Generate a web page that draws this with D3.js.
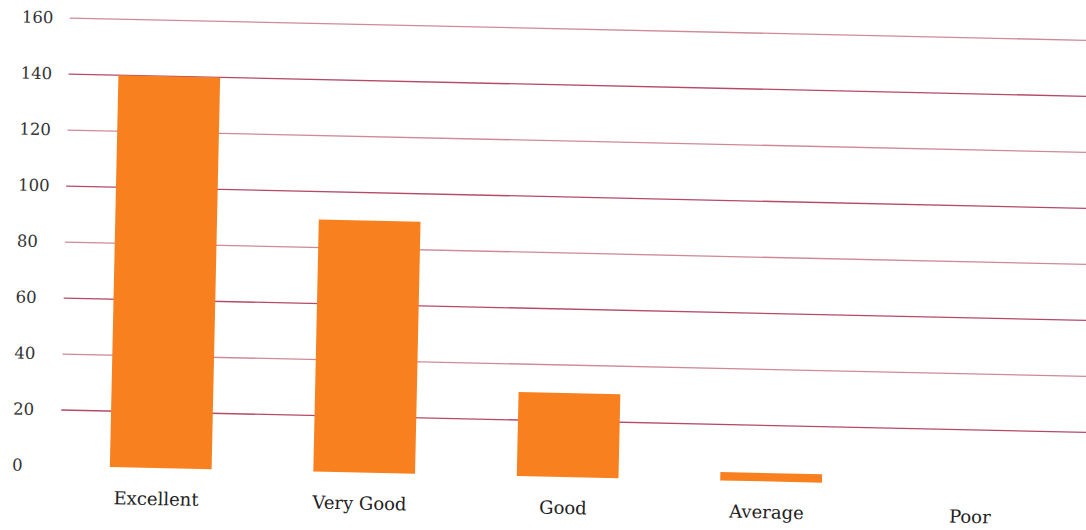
<!DOCTYPE html>
<html>
<head>
<meta charset="utf-8">
<script src="https://cdn.jsdelivr.net/npm/d3@7"></script>
<style>
html,body{margin:0;padding:0;background:#fff;}
svg{display:block;}
</style>
</head>
<body>
<svg id="chart" width="1086" height="530"></svg>
<script>
const categories = ["Excellent", "Very Good", "Good", "Average", "Poor"];
const values = [140, 90, 30, 3, 0];
const tickValues = [0, 20, 40, 60, 80, 100, 120, 140, 160];

const svg = d3.select("#chart");
svg.append("rect").attr("width", 1086).attr("height", 530).attr("fill", "#fff");

const g = svg.append("g").attr("transform", "rotate(1.25, 60, 466)");

const x = d3.scaleBand().domain(categories).range([59, 1076.5])
  .paddingInner(0.5).paddingOuter(0.25);
const y = d3.scaleLinear().domain([0, 160]).range([466, 18]);

// gridlines (no line at 0)
g.append("g").selectAll("line")
  .data(tickValues.filter(v => v > 0))
  .join("line")
  .attr("x1", 60).attr("x2", 1120)
  .attr("y1", d => y(d)).attr("y2", d => y(d))
  .attr("stroke", d => (d / 20) % 2 === 1 ? "#b44a68" : "#cf8a98")
  .attr("stroke-width", 1.3);

// y tick labels
g.append("g").selectAll("text")
  .data(tickValues)
  .join("text")
  .attr("x", 12).attr("y", d => y(d))
  .attr("dominant-baseline", "central")
  .attr("font-family", "DejaVu Serif")
  .attr("font-size", 16.5)
  .attr("fill", "#333")
  .text(d => d);

// bars
g.append("g").selectAll("rect")
  .data(categories.map((c, i) => ({c, v: values[i]})))
  .join("rect")
  .attr("x", d => x(d.c))
  .attr("width", x.bandwidth())
  .attr("y", d => y(d.v))
  .attr("height", d => y(0) - y(d.v))
  .attr("fill", "#f8801f");

// category labels
g.append("g").selectAll("text")
  .data(categories)
  .join("text")
  .attr("x", d => x(d) + x.bandwidth() / 2 - 4)
  .attr("y", 503)
  .attr("text-anchor", "middle")
  .attr("font-family", "DejaVu Serif")
  .attr("font-size", 18)
  .attr("fill", "#222")
  .text(d => d);
</script>
</body>
</html>
